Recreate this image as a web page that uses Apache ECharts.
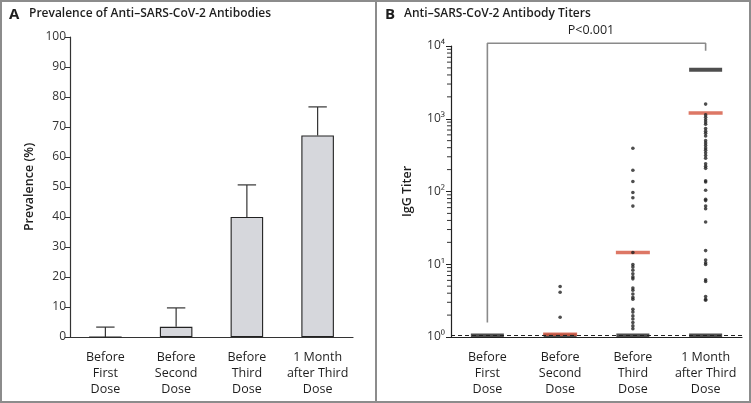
<!DOCTYPE html>
<html><head><meta charset="utf-8">
<script src="https://cdn.jsdelivr.net/npm/echarts@6/dist/echarts.min.js"></script>
<style>html,body{margin:0;padding:0;background:#fff}#c{width:751px;height:403px}</style>
</head><body><div id="c"></div>
<script>
// ---------- data ----------
const categories = ['Before\nFirst\nDose', 'Before\nSecond\nDose', 'Before\nThird\nDose', '1 Month\nafter Third\nDose'];
const prevalence = [0, 3.4, 40, 67.2];
const prevalenceUpper = [3.3, 9.7, 50.7, 76.7];

const titerCol2 = [4.95, 4.13, 1.87];
const titerCol3 = [394, 196, 137, 97, 82, 63, 14.5, 9.9, 9.2, 8.3, 7.4, 6.7, 6.3, 4.7, 4.4, 3.9, 3.5, 3.3, 2.4, 2.2, 1.95, 1.77, 1.58, 1.42, 1.3];
const titerCol4 = [1590, 1130, 1050, 970, 900, 840, 735, 675, 630, 580, 500, 465, 430, 395, 370, 340, 313, 287, 240, 222, 208, 140, 135, 104, 78, 75, 63, 58, 38, 15.4, 11.4, 10.5, 9.9, 6.1, 5.8, 3.6, 3.3, 3.2];
const baselineCluster = [1.05, 1.05, 1.05, 1.05];   // many overlapping points at the detection limit
const topCluster = [null, null, null, 4700];         // many overlapping points at the upper limit
const medians = [null, 1.09, 14.5, 1200];
const detectionLimit = 1.05;
const bracket = { from: 0, to: 3, top: 10900, leftBottom: 1.58, rightBottom: 8600, text: 'P<0.001' };

const minorMultipliers = [2, 3, 4, 5, 6, 7, 8, 9];
const minorDecades = [1, 10, 100, 1000];

// ---------- build ----------
const FONT = "'Open Sans', 'Noto Sans', sans-serif";
const TXT = '#1e1e1e';
function pts(col, arr) { return arr.map(v => [col, v]); }
const allPts = [].concat(pts(1, titerCol2), pts(2, titerCol3), pts(3, titerCol4));
const clusterPts = [];
baselineCluster.forEach((v, i) => { if (v != null) clusterPts.push([i, v]); });
topCluster.forEach((v, i) => { if (v != null) clusterPts.push([i, v]); });
const medianPts = [];
medians.forEach((v, i) => { if (v != null) medianPts.push([i, v]); });
const minorTicks = [];
minorDecades.forEach(d => minorMultipliers.forEach(m => minorTicks.push([0, d * m])));
const supMap = { '0': '⁰', '1': '¹', '2': '²', '3': '³', '4': '⁴' };

const chart = echarts.init(document.getElementById('c'), null, { renderer: 'canvas' });
const catLabel = { color: TXT, fontSize: 12.5, lineHeight: 16, margin: 12, fontFamily: FONT, interval: 0 };
const option = {
  backgroundColor: '#fff',
  animation: false,
  textStyle: { fontFamily: FONT },
  graphic: [
    { type: 'rect', shape: { x: 1, y: 1, width: 749, height: 401 }, style: { fill: 'none', stroke: '#8c8c8c', lineWidth: 2 } },
    { type: 'line', shape: { x1: 376, y1: 1, x2: 376, y2: 402 }, style: { stroke: '#8c8c8c', lineWidth: 2 } },
    { type: 'text', left: 9, top: 7, style: { text: 'A', font: "bold 15px " + FONT, fill: TXT } },
    { type: 'text', left: 29, top: 8, style: { text: 'Prevalence of Anti–SARS-CoV-2 Antibodies', font: "600 12px " + FONT, fill: TXT } },
    { type: 'text', left: 385, top: 7, style: { text: 'B', font: "bold 15px " + FONT, fill: TXT } },
    { type: 'text', left: 404, top: 8, style: { text: 'Anti–SARS-CoV-2 Antibody Titers', font: "600 12px " + FONT, fill: TXT } },
    { type: 'text', x: 591, y: 30, style: { text: bracket.text, font: "12.5px " + FONT, fill: TXT, align: 'center', verticalAlign: 'middle' } }
  ],
  grid: [
    { left: 70, right: 398, top: 37, bottom: 66 },
    { left: 451, right: 9, top: 46, bottom: 66 }
  ],
  xAxis: [
    { type: 'category', gridIndex: 0, data: categories,
      axisLine: { lineStyle: { color: '#333', width: 1.2 } }, axisTick: { show: false }, axisLabel: catLabel },
    { type: 'category', gridIndex: 1, data: categories,
      axisLine: { lineStyle: { color: '#222', width: 1.2 } }, axisTick: { show: false }, axisLabel: catLabel }
  ],
  yAxis: [
    { type: 'value', gridIndex: 0, min: 0, max: 100, interval: 10,
      name: 'Prevalence (%)', nameLocation: 'middle', nameGap: 34,
      nameTextStyle: { color: TXT, fontSize: 12.5, fontWeight: 600, fontFamily: FONT },
      axisLine: { show: true, lineStyle: { color: '#333', width: 1.2 } },
      axisTick: { show: true, length: 5, lineStyle: { color: '#333' } },
      splitLine: { show: false },
      axisLabel: { color: '#333', fontSize: 12, margin: 4, fontFamily: FONT } },
    { type: 'log', gridIndex: 1, logBase: 10, min: 1, max: 10000,
      name: 'IgG Titer', nameLocation: 'middle', nameGap: 37,
      nameTextStyle: { color: TXT, fontSize: 12.5, fontWeight: 600, fontFamily: FONT },
      axisLine: { show: true, lineStyle: { color: '#222', width: 1.2 } },
      axisTick: { show: true, length: 5, lineStyle: { color: '#222' } },
      splitLine: { show: false },
      axisLabel: { color: '#333', fontSize: 12, margin: 6, fontFamily: FONT,
        formatter: v => '10' + (supMap[String(Math.round(Math.log10(v)))] || '') } }
  ],
  series: [
    { type: 'bar', xAxisIndex: 0, yAxisIndex: 0, data: prevalence, barWidth: '46%',
      itemStyle: { color: '#d6d7dc', borderColor: '#222', borderWidth: 1.1 }, z: 2 },
    { type: 'custom', xAxisIndex: 0, yAxisIndex: 0, z: 3,
      data: prevalence.map((v, i) => [i, v, prevalenceUpper[i]]),
      renderItem: function (params, api) {
        const p0 = api.coord([api.value(0), api.value(1)]);
        const p1 = api.coord([api.value(0), api.value(2)]);
        const hw = api.size([1, 0])[0] * 0.13;
        const st = { stroke: '#333', lineWidth: 1.2 };
        return { type: 'group', children: [
          { type: 'line', shape: { x1: p0[0], y1: p0[1], x2: p1[0], y2: p1[1] }, style: st },
          { type: 'line', shape: { x1: p1[0] - hw, y1: p1[1], x2: p1[0] + hw, y2: p1[1] }, style: st }
        ] };
      } },
    { type: 'custom', xAxisIndex: 1, yAxisIndex: 1, data: minorTicks, clip: false, silent: true,
      renderItem: function (params, api) {
        const y = api.coord([0, api.value(1)])[1];
        const x0 = params.coordSys.x;
        return { type: 'line', shape: { x1: x0 - 4, y1: y, x2: x0, y2: y }, style: { stroke: '#333', lineWidth: 1 } };
      } },
    { type: 'line', xAxisIndex: 1, yAxisIndex: 1, data: [], silent: true,
      markLine: { silent: true, symbol: ['none', 'none'], label: { show: false },
        lineStyle: { color: '#222', type: [4, 3], width: 1 },
        data: [{ yAxis: detectionLimit }] } },
    { type: 'line', xAxisIndex: 1, yAxisIndex: 1, clip: false, symbol: 'none', silent: true,
      lineStyle: { color: '#8a8a8a', width: 1.6 },
      data: [[bracket.from, bracket.leftBottom], [bracket.from, bracket.top], [bracket.to, bracket.top], [bracket.to, bracket.rightBottom]], z: 1 },
    { type: 'scatter', xAxisIndex: 1, yAxisIndex: 1, data: clusterPts, symbol: 'rect', symbolSize: [33, 4],
      itemStyle: { color: '#222' }, z: 3 },
    { type: 'scatter', xAxisIndex: 1, yAxisIndex: 1, data: medianPts, symbol: 'rect', symbolSize: [34, 3.5],
      itemStyle: { color: '#d4553e' }, z: 4 },
    { type: 'scatter', xAxisIndex: 1, yAxisIndex: 1, data: allPts, symbol: 'circle', symbolSize: 3.6,
      itemStyle: { color: '#222' }, z: 5 }
  ]
};
chart.setOption(option);
</script></body></html>
